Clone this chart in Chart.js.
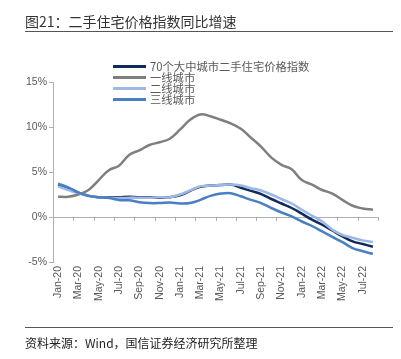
<!DOCTYPE html>
<html><head><meta charset="utf-8">
<script src="https://cdn.jsdelivr.net/npm/chart.js@4/dist/chart.umd.min.js"></script>
<style>
html,body{margin:0;padding:0;background:#fff;}
#wrap{position:relative;width:401px;height:359px;overflow:hidden;font-family:"Noto Sans CJK SC","Noto Sans",sans-serif;}
canvas{position:absolute;left:0;top:0;}
.title{position:absolute;left:25px;top:11px;font-size:14px;color:#333;white-space:nowrap;}
.rule{position:absolute;left:25px;width:368px;height:0;border-top:1.5px solid #555;}
.src{position:absolute;left:25px;top:334px;font-size:12px;color:#222;white-space:nowrap;}
.leg{position:absolute;left:113px;font-size:11.3px;color:#595959;white-space:nowrap;line-height:11px;}
.leg span{display:inline-block;width:33px;height:3px;vertical-align:middle;margin-right:4px;position:relative;top:-1px;}
</style></head>
<body><div id="wrap">
<canvas id="c" width="401" height="359"></canvas>
<div class="title">图21：二手住宅价格指数同比增速</div>
<div class="rule" style="top:31px"></div>
<div class="rule" style="top:327px"></div>
<div class="src">资料来源：Wind，国信证券经济研究所整理</div>
<div id="legend"></div>
</div>
<script>
const categories = ["Jan-20","Feb-20","Mar-20","Apr-20","May-20","Jun-20","Jul-20","Aug-20","Sep-20","Oct-20","Nov-20","Dec-20",
"Jan-21","Feb-21","Mar-21","Apr-21","May-21","Jun-21","Jul-21","Aug-21","Sep-21","Oct-21","Nov-21","Dec-21",
"Jan-22","Feb-22","Mar-22","Apr-22","May-22","Jun-22","Jul-22","Aug-22"];
const seriesNames = ["70个大中城市二手住宅价格指数","一线城市","二线城市","三线城市"];
const city70 = [3.55,3.2,2.7,2.35,2.2,2.2,2.2,2.25,2.2,2.2,2.15,2.2,2.4,2.9,3.35,3.5,3.55,3.6,3.25,2.9,2.55,2.0,1.5,1.0,0.37,-0.3,-0.86,-1.5,-2.15,-2.7,-3.0,-3.3];
const tier1 = [2.25,2.25,2.5,3.0,4.1,5.2,5.7,6.9,7.4,8.0,8.3,8.7,9.7,10.8,11.4,11.2,10.8,10.4,9.8,8.8,7.8,6.6,5.8,5.3,4.1,3.6,3.0,2.6,1.9,1.25,0.95,0.8];
const tier2 = [3.4,3.0,2.65,2.35,2.2,2.15,2.1,2.15,2.15,2.15,2.2,2.2,2.5,2.95,3.4,3.5,3.55,3.6,3.5,3.2,2.95,2.5,2.0,1.5,0.8,0.15,-0.5,-1.4,-2.0,-2.3,-2.6,-2.8];
const tier3 = [3.7,3.3,2.7,2.35,2.2,2.1,1.9,1.85,1.65,1.55,1.55,1.6,1.5,1.55,1.9,2.35,2.6,2.65,2.3,1.9,1.55,1.0,0.5,0.07,-0.5,-1.0,-1.6,-2.2,-2.8,-3.45,-3.8,-4.1];
const yTicks = [-5,0,5,10,15];
const colors = ["#0e2b5c","#7f7f7f","#9db8e6","#4a7fc4"];

const seriesData = [city70, tier1, tier2, tier3];
// legend (HTML text)
const legendTops = [61,72,83,94];
const lg = document.getElementById('legend');
seriesNames.forEach((n,i)=>{
  const d=document.createElement('div'); d.className='leg'; d.style.top=legendTops[i]+'px';
  d.innerHTML='<span style="background:'+colors[i]+'"></span>'+n; lg.appendChild(d);
});

const axisColor = "#b0b0b0";
const zeroAxis = {
  id:'zeroAxis',
  beforeDatasetsDraw(chart){
    const {ctx, scales:{x,y}} = chart;
    const y0 = y.getPixelForValue(0);
    ctx.save();
    ctx.strokeStyle = axisColor; ctx.lineWidth = 1;
    ctx.beginPath();
    ctx.moveTo(x.left, Math.round(y0)+0.5); ctx.lineTo(x.right, Math.round(y0)+0.5);
    const half = (x.getPixelForValue(1)-x.getPixelForValue(0))/2;
    for(let i=1;i<=categories.length;i++){
      if(i%2===0){
        const px = Math.round(x.getPixelForValue(i-1)+half)+0.5;
        ctx.moveTo(px, y0); ctx.lineTo(px, y0+4);
      }
    }
    ctx.stroke();
    ctx.restore();
  }
};

new Chart(document.getElementById('c'), {
  type:'line',
  data:{
    labels:categories,
    datasets: seriesData.map((d,i)=>({
      label:seriesNames[i], data:d, borderColor:colors[i], backgroundColor:colors[i],
      borderWidth:2.5, pointRadius:0, tension:0.4, fill:false
    })).reverse()
  },
  options:{
    responsive:false, animation:false,
    layout:{padding:{left:0,top:82,right:23,bottom:0}},
    plugins:{legend:{display:false}, tooltip:{enabled:false}},
    scales:{
      x:{
        type:'category', offset:true,
        grid:{display:false, drawTicks:false},
        border:{display:false},
        afterFit(s){ s.height = 97; },
        ticks:{autoSkip:false, maxRotation:90, minRotation:90, padding:4,
          color:"#595959", font:{family:"Liberation Sans, Arial", size:10.5},
          callback(v,i){ return i%2===0 ? categories[i] : ''; }}
      },
      y:{
        min:-5, max:15,
        afterFit(s){ s.width = 53; },
        afterBuildTicks(s){ s.ticks = yTicks.map(v=>({value:v})); },
        grid:{drawOnChartArea:false, drawTicks:true, tickLength:4, color:axisColor},
        border:{display:true, color:axisColor, width:1},
        ticks:{color:"#595959", padding:2, font:{family:"Liberation Sans, Arial", size:10.5},
          callback(v){ return v + '%'; }}
      }
    }
  },
  plugins:[zeroAxis]
});
</script>
</body></html>
